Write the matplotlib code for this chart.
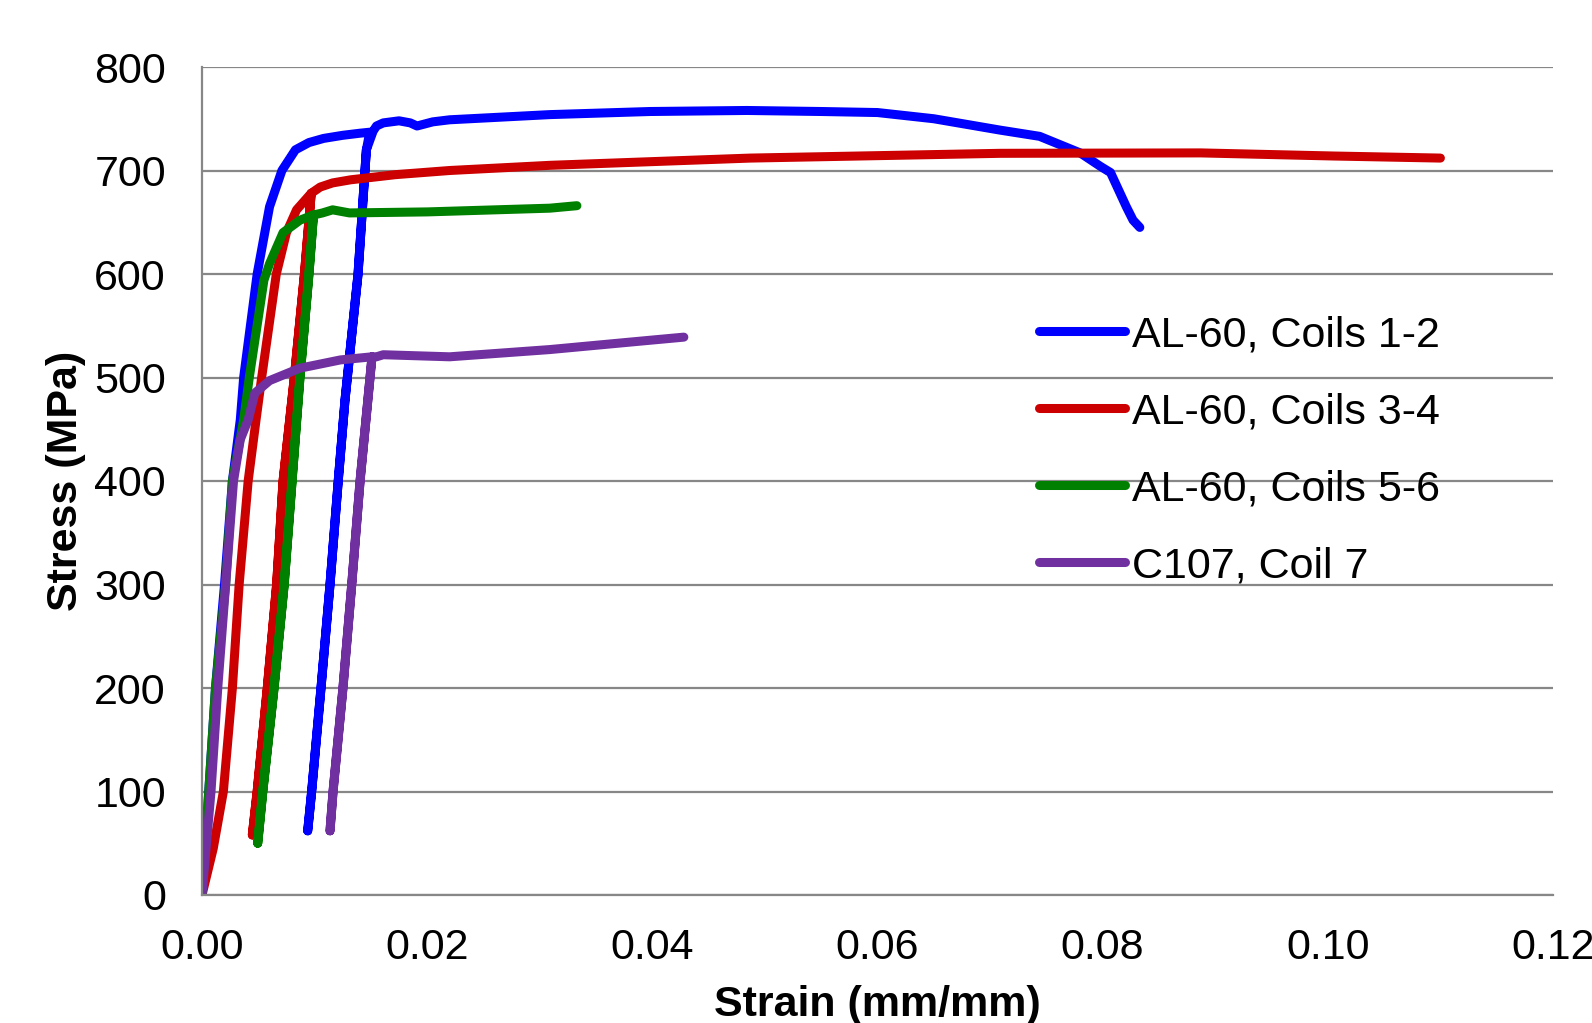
import matplotlib
matplotlib.use("Agg")
import matplotlib.pyplot as plt
from matplotlib.ticker import FormatStrFormatter

plt.rcParams["font.family"] = ["Liberation Sans", "DejaVu Sans"]

# strain (mm/mm) / stress (MPa)
strain_12 = [0.0, 0.0006, 0.0012, 0.0020, 0.0027, 0.0034, 0.0037, 0.0049, 0.0060,
             0.0071, 0.0077, 0.0083, 0.0095, 0.0108, 0.0125, 0.0140, 0.0149,
             0.0146, 0.01386, 0.0127, 0.0121, 0.01137, 0.01057, 0.00974, 0.00939,
             0.00974, 0.01057, 0.01137, 0.0121, 0.0127, 0.01386, 0.0146, 0.0152,
             0.0155, 0.0161, 0.0175, 0.0185, 0.0191, 0.0205, 0.022, 0.0309,
             0.0398, 0.0484, 0.055, 0.060, 0.065, 0.0709, 0.0744, 0.078,
             0.0798, 0.0807, 0.0821, 0.0827, 0.0833]
stress_12 = [0, 100, 200, 300, 400, 459, 500, 600, 665,
             700, 710, 720, 727, 731, 734, 736, 737,
             720, 600, 478, 400, 300, 200, 100, 62,
             100, 200, 300, 400, 478, 600, 720, 738,
             743, 746, 748, 746, 743, 747, 749, 754,
             757, 758, 757, 756, 750, 739, 733, 717,
             704, 698, 665, 652, 645]

strain_34 = [0.0, 0.0010, 0.0019, 0.0027, 0.0033, 0.0041, 0.0048, 0.0053, 0.0066,
             0.0075, 0.0084, 0.0097,
             0.0091, 0.0082, 0.0072, 0.00663, 0.0058, 0.0049, 0.00447,
             0.0049, 0.0058, 0.00663, 0.0072, 0.0082, 0.0091, 0.0097,
             0.0105, 0.0116, 0.0132, 0.0172, 0.022, 0.0309, 0.0487, 0.0709,
             0.0887, 0.1005, 0.110]
stress_34 = [0, 45, 100, 200, 300, 400, 459, 500, 600,
             640, 662, 678,
             600, 500, 400, 300, 200, 100, 58,
             100, 200, 300, 400, 500, 600, 678,
             684, 688, 691, 696, 700, 705, 712, 716.6,
             717, 714, 712]

strain_56 = [0.0, 0.0006, 0.0012, 0.0021, 0.0027, 0.0037, 0.0042, 0.0055, 0.0060,
             0.0072, 0.0087, 0.0099,
             0.0095, 0.0087, 0.0080, 0.0073, 0.0064, 0.0054, 0.00495,
             0.0054, 0.0064, 0.0073, 0.0080, 0.0087, 0.0095, 0.0099,
             0.0107, 0.0116, 0.0131, 0.020, 0.0309, 0.0333]
stress_56 = [0, 100, 200, 300, 400, 459, 500, 594, 610,
             640, 652, 657,
             600, 500, 400, 300, 200, 100, 50,
             100, 200, 300, 400, 500, 600, 657,
             659, 662, 659, 660, 663.6, 666]

strain_7 = [0.0, 0.0008, 0.0014, 0.0021, 0.0028, 0.0034, 0.0041, 0.0047, 0.0060,
            0.0087, 0.0123, 0.0151,
            0.01404, 0.0133, 0.01252, 0.01164, 0.01137,
            0.01164, 0.01252, 0.0133, 0.01404, 0.0151,
            0.0155, 0.0161, 0.022, 0.0309, 0.0398, 0.0428]
stress_7 = [0, 100, 200, 300, 400, 440, 459, 485, 497,
            509, 517, 520,
            400, 300, 200, 100, 62,
            100, 200, 300, 400, 520,
            520, 522, 520, 527, 536, 539]

series_labels = ["AL-60, Coils 1-2", "AL-60, Coils 3-4", "AL-60, Coils 5-6", "C107, Coil 7"]
series_colors = ["#0000FF", "#CC0000", "#008000", "#7030A0"]

x_ticks = [0.0, 0.02, 0.04, 0.06, 0.08, 0.10, 0.12]
y_ticks = [0, 100, 200, 300, 400, 500, 600, 700, 800]

fig = plt.figure(figsize=(15.92, 10.23), dpi=100)
ax = fig.add_axes([202 / 1592, 1 - 895 / 1023, 1351 / 1592, 828 / 1023])

curves = [(strain_12, stress_12), (strain_34, stress_34),
          (strain_56, stress_56), (strain_7, stress_7)]
for (xs, ys), lab, col in zip(curves, series_labels, series_colors):
    ax.plot(xs, ys, color=col, lw=6.5, label=lab,
            solid_capstyle="round", solid_joinstyle="round")

ax.set_xlim(0, 0.12)
ax.set_ylim(0, 800)
ax.set_xticks(x_ticks)
ax.set_yticks(y_ticks)
ax.xaxis.set_major_formatter(FormatStrFormatter("%.2f"))
ax.tick_params(axis="both", length=0, labelsize=31)
ax.tick_params(axis="x", pad=24)
ax.tick_params(axis="y", pad=26)

ax.grid(axis="y", color="#878787", lw=1.6)
ax.set_axisbelow(True)
for side in ["top", "right"]:
    ax.spines[side].set_visible(False)
for side in ["left", "bottom"]:
    ax.spines[side].set_color("#878787")
    ax.spines[side].set_linewidth(1.6)

# reference crops this label at the bottom edge; kept just inside here
ax.set_xlabel("Strain (mm/mm)", fontsize=31, fontweight="bold", labelpad=12)
ax.set_ylabel("Stress (MPa)", fontsize=31, fontweight="bold", labelpad=6)

ax.legend(loc="upper left", bbox_to_anchor=(1039 / 1592, 1 - 315 / 1023),
          bbox_transform=fig.transFigure, frameon=False, fontsize=31,
          borderpad=0, borderaxespad=0, handlelength=2.0, handletextpad=0.15,
          labelspacing=0.86)

fig.savefig("out.png", dpi=100)
